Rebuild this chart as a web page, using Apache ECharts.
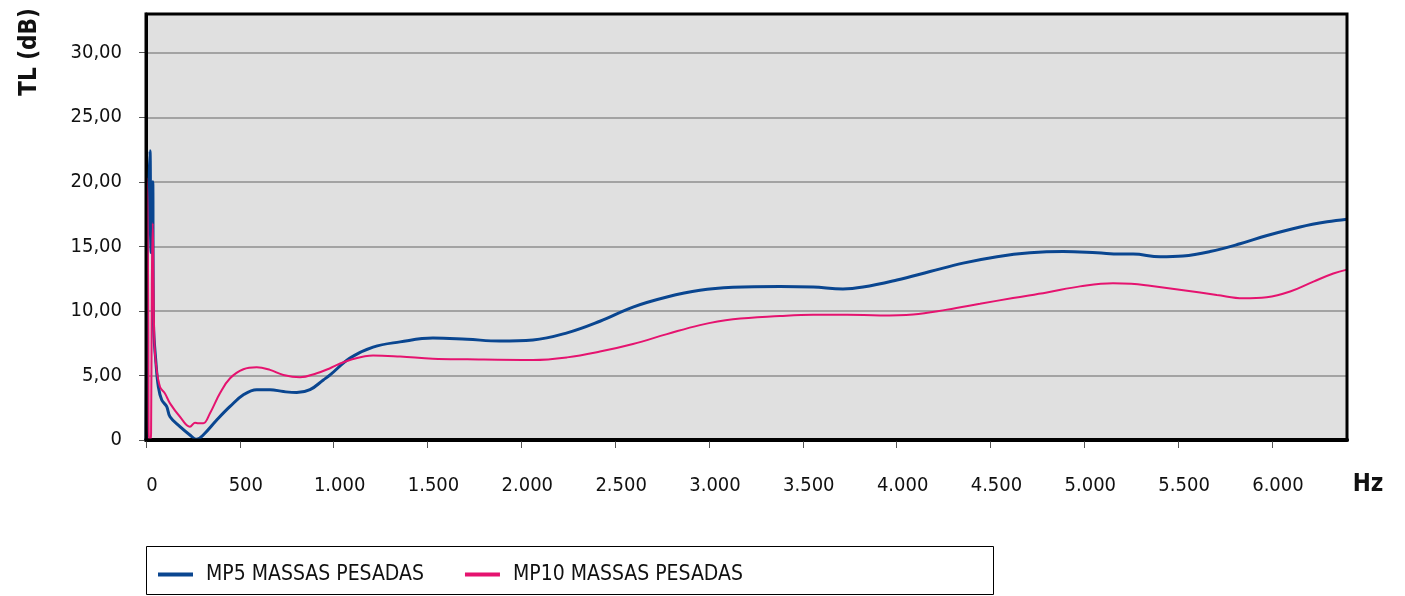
<!DOCTYPE html>
<html>
<head>
<meta charset="utf-8">
<script src="https://cdn.jsdelivr.net/npm/echarts@6/dist/echarts.min.js"></script>
<style>
html,body{margin:0;padding:0;background:#fff;}
#chart{width:1405px;height:596px;}
</style>
</head>
<body>
<div id="chart"></div>
<script>
// Frequency (Hz) / TL (dB) pairs
const seriesNames = ['MP5 MASSAS PESADAS', 'MP10 MASSAS PESADAS'];
const mp5Hz = [0,5,12,21,25,28,33,36,40,53,66,84,110,128,181,234,270,305,377,448,519,590,661,732,803,874,945,981,1087,1210,1354,1529,1711,1886,2062,2244,2419,2595,2776,2952,3128,3379,3555,3714,3821,4002,4178,4354,4535,4711,4887,5068,5190,5260,5404,5526,5670,5830,5974,6150,6294,6400];
const mp5dB = [0,10,18,22.4,17,14.5,18,20.0,9.0,6.0,4.1,3.1,2.6,1.8,1.03,0.39,0.05,0.39,1.55,2.6,3.5,3.9,3.9,3.75,3.67,3.9,4.65,5.04,6.35,7.2,7.6,7.9,7.8,7.67,7.75,8.3,9.2,10.3,11.08,11.6,11.83,11.9,11.85,11.7,11.85,12.4,13.05,13.7,14.2,14.5,14.6,14.5,14.4,14.4,14.2,14.26,14.6,15.2,15.84,16.5,16.9,17.1];
const mp10Hz = [0,4,8,12,16,22,27,31,36,40,45,53,75,101,128,181,234,261,279,305,341,394,448,519,590,661,732,821,910,981,1015,1087,1210,1354,1529,1711,2062,2244,2419,2595,2776,2952,3128,3379,3555,3736,3912,4088,4268,4444,4620,4801,4977,5153,5250,5350,5528,5706,5848,5972,6097,6221,6327,6400];
const mp10dB = [19.5,20.3,18,10,0,0,0.5,12,16.8,12,7.5,5.9,4.1,3.6,2.84,1.8,1.03,1.34,1.29,1.29,2.07,3.62,4.78,5.48,5.63,5.43,5.04,4.86,5.17,5.56,5.8,6.2,6.54,6.46,6.3,6.25,6.2,6.4,6.85,7.44,8.2,8.9,9.35,9.6,9.7,9.7,9.65,9.73,10.1,10.55,11.0,11.43,11.9,12.15,12.1,11.94,11.6,11.24,10.98,11.06,11.5,12.27,12.9,13.2];
const xTicks = [0,500,1000,1500,2000,2500,3000,3500,4000,4500,5000,5500,6000];
const yTicks = [0,5,10,15,20,25,30];

const FONT = '"DejaVu Sans Condensed", "DejaVu Sans", "Open Sans", sans-serif';
const colors = ['#0a4690', '#e5136f'];

function pairs(xs, ys){ return xs.map((x,i)=>[x, ys[i]]); }
function fmtHz(v){
  if (xTicks.indexOf(v) < 0) return '';
  return String(v).replace(/\B(?=(\d{3})+(?!\d))/g, '.');
}
function fmtDb(v){
  if (yTicks.indexOf(v) < 0) return '';
  return v === 0 ? '0' : v.toFixed(2).replace('.', ',');
}

const GL = 146, GR = 58, GT = 14, GB = 156;
const W = 1405, H = 596;

const chart = echarts.init(document.getElementById('chart'), null, {renderer:'canvas'});
chart.setOption({
  animation: false,
  backgroundColor: '#ffffff',
  color: colors,
  textStyle: {fontFamily: FONT},
  grid: {
    left: GL, right: GR, top: GT, bottom: GB,
    show: true, backgroundColor: '#e0e0e0', borderWidth: 0
  },
  xAxis: {
    type: 'value', min: 0, max: 6400, interval: 500,
    axisLine: {show: true, lineStyle: {color: '#000', width: 4}},
    axisTick: {show: true, length: 8, customValues: xTicks, lineStyle: {color: '#555', width: 1}},
    splitLine: {show: false},
    axisLabel: {
      formatter: fmtHz, customValues: xTicks, color: '#111', fontSize: 20, fontFamily: FONT,
      margin: 36, padding: [0,0,0,12]
    }
  },
  yAxis: {
    type: 'value', min: 0, max: 33, interval: 5,
    axisLine: {show: true, lineStyle: {color: '#000', width: 3}},
    axisTick: {show: true, length: 7, customValues: yTicks, lineStyle: {color: '#555', width: 1}},
    splitLine: {show: true, lineStyle: {color: '#a3a3a3', width: 2}},
    axisLabel: {formatter: fmtDb, customValues: yTicks, color: '#111', fontSize: 20, fontFamily: FONT, margin: 24}
  },
  legend: {
    show: true, left: 153, top: 559, orient: 'horizontal',
    icon: 'rect', itemWidth: 35, itemHeight: 4, itemGap: 41,
    textStyle: {fontSize: 21, color: '#111', fontFamily: FONT, padding: [0,0,0,8]},
    data: seriesNames
  },
  graphic: [
    {type: 'rect', z: 100, silent: true,
     shape: {x: GL, y: GT, width: W - GL - GR, height: H - GT - GB},
     style: {fill: 'none', stroke: '#000', lineWidth: 3}},
    {type: 'rect', shape: {x: 146.5, y: 546.5, width: 847, height: 48},
     style: {fill: 'none', stroke: '#000', lineWidth: 1}, z: -1},
    {type: 'text', x: 30, y: 52, rotation: Math.PI/2,
     style: {text: 'TL (dB)', font: 'bold 24px ' + FONT, fill: '#111', align: 'center', verticalAlign: 'middle'}},
    {type: 'text', x: 1368, y: 485,
     style: {text: 'Hz', font: 'bold 24px ' + FONT, fill: '#111', align: 'center', verticalAlign: 'middle'}}
  ],
  series: [
    {name: seriesNames[0], type: 'line', data: pairs(mp5Hz, mp5dB), showSymbol: false,
     smooth: 0.4, lineStyle: {color: colors[0], width: 3}, z: 3},
    {name: seriesNames[1], type: 'line', data: pairs(mp10Hz, mp10dB), showSymbol: false,
     smooth: 0.4, lineStyle: {color: colors[1], width: 2}, z: 4}
  ]
});
</script>
</body>
</html>
